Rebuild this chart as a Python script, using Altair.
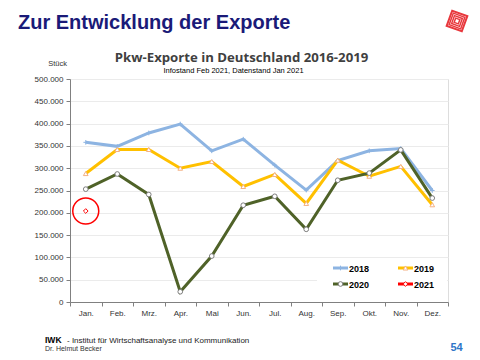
import altair as alt
import pandas as pd

months = ["Jan.", "Feb.", "Mrz.", "Apr.", "Mai", "Jun.", "Jul.", "Aug.", "Sep.", "Okt.", "Nov.", "Dez."]
v2018 = [358000, 349000, 379000, 399000, 339000, 365000, 307000, 251000, 317000, 339000, 344000, 250000]
v2019 = [288000, 342000, 342000, 300000, 315000, 259000, 286000, 221000, 318000, 282000, 304000, 218000]
v2020 = [253000, 287000, 241000, 23000, 103000, 217000, 237000, 163000, 273000, 289000, 341000, 233000]
v2021 = [204000]

series = ["2018", "2019", "2020", "2021"]
colors = ["#8DB4E2", "#FFC000", "#4F6228", "#FF0000"]
marker_strokes = ["#8DB4E2", "#F4B183", "#7F7F7F", "#FF0000"]
shapes = ["M-1,0H1M0,-1V1", "triangle-up", "circle", "diamond"]

rows = []
for s, vals in zip(series, [v2018, v2019, v2020, v2021]):
    for m, v in zip(months, vals):
        rows.append({"month": m, "value": v, "series": s})
df = pd.DataFrame(rows)

W, H = 378, 223
FONT = "Liberation Sans"

x_enc = alt.X("month:N", sort=months, bandPosition=0.5,
              scale=alt.Scale(type="band", paddingInner=0, paddingOuter=0),
              axis=alt.Axis(title=None, labelFont=FONT, labelFontSize=8, labelColor="#333333",
                            tickBand="extent", tickColor="#808080", tickSize=4,
                            domainColor="#808080", labelPadding=3, grid=False, labelAngle=0))
y_enc = alt.Y("value:Q", scale=alt.Scale(domain=[0, 500000], nice=False),
              axis=alt.Axis(title=None, values=list(range(0, 500001, 50000)),
                            labelExpr="replace(format(datum.value, ','), ',', '.')",
                            labelFont=FONT, labelFontSize=8, labelColor="#333333",
                            tickColor="#808080", tickSize=4, domainColor="#808080",
                            gridColor="#EBEBEB", labelPadding=3))
color_enc = alt.Color("series:N", scale=alt.Scale(domain=series, range=colors), legend=None)

base = alt.Chart(df)
lines = base.mark_line(strokeWidth=3).encode(x=x_enc, y=y_enc, color=color_enc, detail="series:N")
points = base.mark_point(filled=False, fill="white", size=22, strokeWidth=1, opacity=1).encode(
    x=x_enc, y=y_enc,
    stroke=alt.Stroke("series:N", scale=alt.Scale(domain=series, range=marker_strokes), legend=None),
    shape=alt.Shape("series:N", scale=alt.Scale(domain=series, range=shapes), legend=None))

circ = alt.Chart(df[df.series == "2021"]).mark_point(filled=False, size=676, strokeWidth=1.5,
                                                     color="#FF0000", opacity=1).encode(x=x_enc, y=y_enc)

one = alt.Data(values=[{}])

def txt(s, x, y, size, color="#000000", font=FONT, weight="normal", align="left"):
    return alt.Chart(one).mark_text(text=s, font=font, fontSize=size, color=color, fontWeight=weight,
                                    align=align, baseline="alphabetic").encode(x=alt.value(x), y=alt.value(y))

layers = [lines, points, circ]

# legend box
layers.append(alt.Chart(one).mark_rect(color="white").encode(
    x=alt.value(247), x2=alt.value(377), y=alt.value(179), y2=alt.value(219)))
leg_pos = [(263, 189), (328, 189), (263, 205), (328, 205)]
for i, s in enumerate(series):
    lx, ly = leg_pos[i]
    layers.append(alt.Chart(one).mark_rule(color=colors[i], strokeWidth=3).encode(
        x=alt.value(lx), x2=alt.value(lx + 15), y=alt.value(ly)))
    layers.append(alt.Chart(one).mark_point(shape=shapes[i], size=22, filled=False, fill="white",
                                            stroke=marker_strokes[i], strokeWidth=1, opacity=1).encode(
        x=alt.value(lx + 7.5), y=alt.value(ly)))
    layers.append(txt(s, lx + 16, ly + 3.5, 9, weight="bold"))

# titles and texts
layers.append(txt("Zur Entwicklung der Exporte", -52, -50, 20, color="#1A1A78", weight="bold"))
layers.append(txt("Pkw-Exporte in Deutschland 2016-2019", 171.5, -17, 13.2, color="#404040",
                  font="Open Sans", weight="bold", align="center"))
layers.append(txt("Infostand Feb 2021, Datenstand Jan 2021", 163.5, -6.5, 7.5, align="center"))
layers.append(txt("Stück", -12.5, -13, 7.5, color="#333333", align="center"))
layers.append(alt.Chart(one).mark_text(text="IWK", font=FONT, fontSize=8.5, fontWeight="bold",
                                       align="left", baseline="alphabetic").encode(
    x=alt.value(-25), y=alt.value(264)))
layers.append(txt("- Institut für Wirtschaftsanalyse und Kommunikation", -3, 264, 8, color="#222222"))
layers.append(txt("Dr. Helmut Becker", -25, 271.5, 7, color="#333333"))
layers.append(txt("54", 386.5, 272, 11, color="#2E75C8", weight="bold", align="center"))

# logo
for sz, sw in [(260, 2), (150, 1.5), (70, 1.5), (20, 1.5)]:
    layers.append(alt.Chart(one).mark_point(shape="square", size=sz, filled=False, color="#E8383D",
                                            strokeWidth=sw, angle=20, opacity=1).encode(
        x=alt.value(387), y=alt.value(-58)))

chart = alt.layer(*layers).properties(
    width=W, height=H,
    autosize=alt.AutoSizeParams(type="none"),
    padding={"left": 62, "top": 71, "right": 24, "bottom": 50},
).configure_view(stroke="#A6A6A6", strokeWidth=1).configure(background="white")

chart.save("out.html", embed_options={"renderer": "svg", "actions": False})
